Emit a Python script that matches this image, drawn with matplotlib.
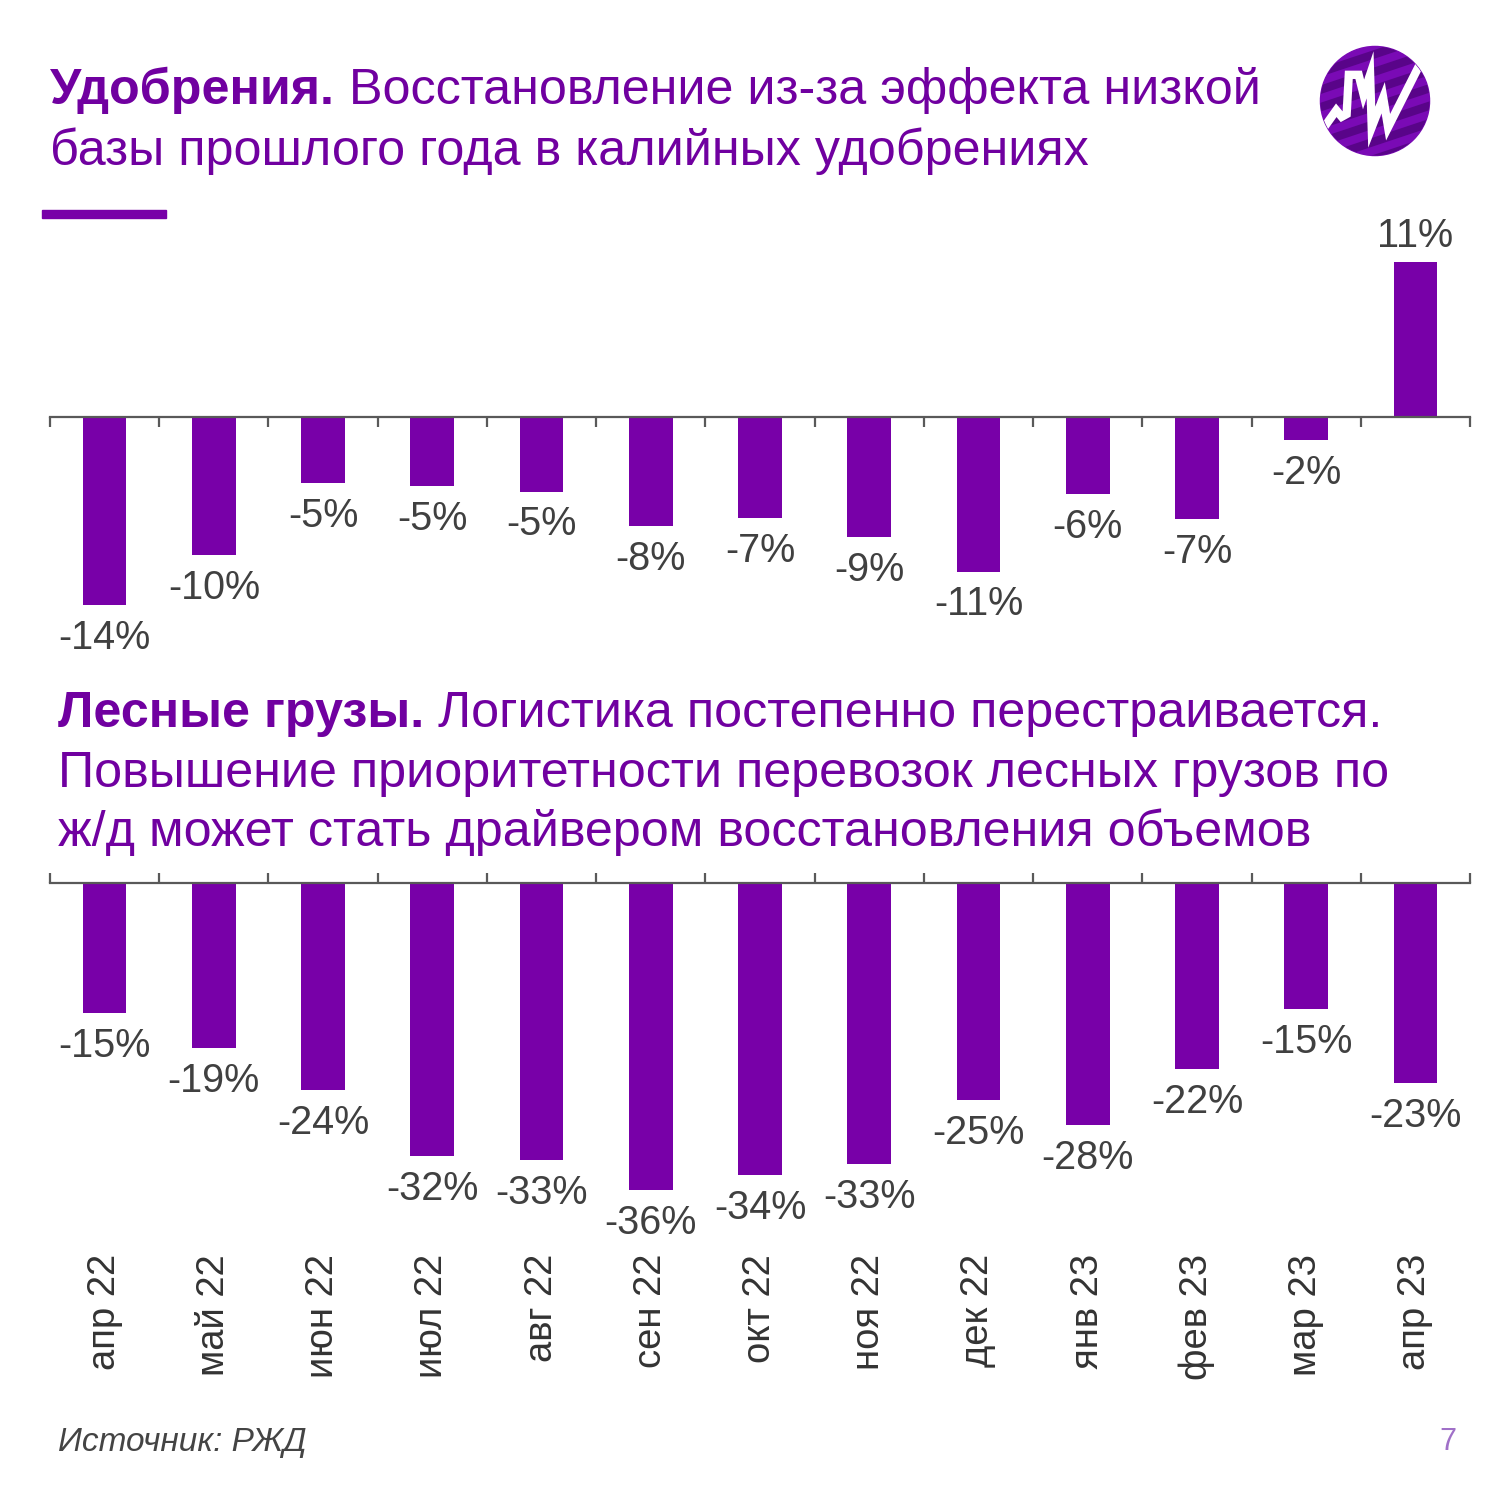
import numpy as np
import matplotlib
matplotlib.use("Agg")
import matplotlib.pyplot as plt
from matplotlib.patches import Circle, Rectangle
from matplotlib.transforms import blended_transform_factory

plt.rcParams['font.family'] = ['Liberation Sans', 'DejaVu Sans']

# data
months = ['апр 22', 'май 22', 'июн 22', 'июл 22', 'авг 22', 'сен 22', 'окт 22',
          'ноя 22', 'дек 22', 'янв 23', 'фев 23', 'мар 23', 'апр 23']
fert_values = [-13.6, -10.0, -4.8, -5.0, -5.4, -7.9, -7.3, -8.7, -11.2, -5.6, -7.4, -1.7, 11.2]
fert_labels = ['-14%', '-10%', '-5%', '-5%', '-5%', '-8%', '-7%', '-9%', '-11%', '-6%', '-7%', '-2%', '11%']
wood_values = [-15.2, -19.3, -24.2, -31.9, -32.4, -35.9, -34.2, -32.9, -25.4, -28.3, -21.8, -14.7, -23.4]
wood_labels = ['-15%', '-19%', '-24%', '-32%', '-33%', '-36%', '-34%', '-33%', '-25%', '-28%', '-22%', '-15%', '-23%']

purple = '#7800A8'
title_col = '#7000A0'
axis_col = '#595959'
text_col = '#404040'
title_size = 36.2

W, H = 1500, 1500
fig = plt.figure(figsize=(15, 15), dpi=100)


def fx(px):
    return px / W


def fy(py):
    return 1 - py / H


def bar_panel(rect, values, labels, ylim, tick_dir):
    ax = fig.add_axes(rect)
    x = np.arange(len(values))
    ax.bar(x, values, width=0.4, color=purple, zorder=2)
    ax.set_xlim(-0.5, len(values) - 0.5)
    ax.set_ylim(*ylim)
    for s in ['top', 'left', 'right']:
        ax.spines[s].set_visible(False)
    ax.spines['bottom'].set_position(('data', 0))
    ax.spines['bottom'].set_color(axis_col)
    ax.spines['bottom'].set_linewidth(1.6)
    ax.spines['bottom'].set_zorder(3)
    ax.set_xticks(np.arange(-0.5, len(values), 1))
    ax.set_xticklabels([])
    ax.tick_params(axis='x', direction=tick_dir, length=7, width=1.6, color=axis_col)
    ax.set_yticks([])
    for xi, v, lab in zip(x, values, labels):
        if v < 0:
            ax.annotate(lab, (xi, v), xytext=(0, -10), textcoords='offset points',
                        ha='center', va='top', fontsize=28.5, color=text_col)
        else:
            ax.annotate(lab, (xi, v), xytext=(0, 5), textcoords='offset points',
                        ha='center', va='bottom', fontsize=28.5, color=text_col)
    return ax


# top chart: zero line at 417 px, ~13.8 px per percent
top_scale = 13.8
ax1 = bar_panel([fx(50), fy(660), fx(1470) - fx(50), fy(220) - fy(660)],
                fert_values, fert_labels,
                (-(660 - 417) / top_scale, (417 - 220) / top_scale), 'out')

# bottom chart: zero line at 883 px, ~8.55 px per percent
bot_scale = 8.55
ax2 = bar_panel([fx(50), fy(1250), fx(1470) - fx(50), fy(870) - fy(1250)],
                wood_values, wood_labels,
                (-(1250 - 883) / bot_scale, (883 - 870) / bot_scale), 'in')

# month labels under the bottom chart
tr = blended_transform_factory(ax2.transData, fig.transFigure)
for i, m in enumerate(months):
    ax2.text(i, fy(1254), m, transform=tr, rotation=90, ha='center', va='top',
             fontsize=27.5, color='#333333', clip_on=False)


# titles: bold lead-in followed by regular text on the same line
def title_line(x, y, bold, rest):
    t = fig.text(fx(x), fy(y), bold, fontsize=title_size, fontweight='bold',
                 color=title_col, va='baseline', ha='left')
    plt.annotate(rest, xy=(1, 0), xycoords=t, va='bottom', ha='left',
                 fontsize=title_size, color=title_col, annotation_clip=False)


title_line(50, 104, 'Удобрения.', ' Восстановление из-за эффекта низкой')
fig.text(fx(50), fy(165), 'базы прошлого года в калийных удобрениях', fontsize=title_size,
         color=title_col, va='baseline', ha='left')

title_line(58, 727, 'Лесные грузы.', ' Логистика постепенно перестраивается.')
fig.text(fx(58), fy(787), 'Повышение приоритетности перевозок лесных грузов по',
         fontsize=title_size, color=title_col, va='baseline', ha='left')
fig.text(fx(58), fy(846), 'ж/д может стать драйвером восстановления объемов',
         fontsize=title_size, color=title_col, va='baseline', ha='left')

# accent line under the first title
fig.patches.append(Rectangle((fx(42), fy(218)), fx(166) - fx(42), fy(210) - fy(218),
                             transform=fig.transFigure, color=purple, zorder=5))

# logo
lax = fig.add_axes([fx(1315), fy(162), fx(120), fy(40) - fy(162)])
lax.set_xlim(-1.1, 1.1)
lax.set_ylim(-1.1, 1.1)
lax.set_aspect('equal')
lax.axis('off')
circ = Circle((0, 0), 1, color='#7A0AB5')
lax.add_patch(circ)
for off in np.arange(-1.6, 1.8, 0.32):
    ln, = lax.plot([-1.2, 1.2], [off - 0.5, off + 0.3], color='#3E0066', lw=6, alpha=0.55)
    ln.set_clip_path(circ)
logo_u = [-0.91, -0.71, -0.61, -0.52, -0.48, -0.30, -0.21, -0.09, -0.06, 0.15, 0.24, 0.79]
logo_v = [-0.45, -0.17, -0.29, -0.24, 0.48, 0.48, 0.12, 0.48, -0.48, 0.06, -0.48, 0.61]
wl, = lax.plot(logo_u, logo_v, color='white', lw=6, solid_joinstyle='miter')
wl.set_clip_path(circ)

# footer
fig.text(fx(58), fy(1442), 'Источник: РЖД', fontsize=24, style='italic',
         color='#444444', va='center', ha='left')
fig.text(fx(1456), fy(1442), '7', fontsize=22, color='#A070C8', va='center', ha='right')

fig.savefig('out.png', dpi=100, facecolor='white')
